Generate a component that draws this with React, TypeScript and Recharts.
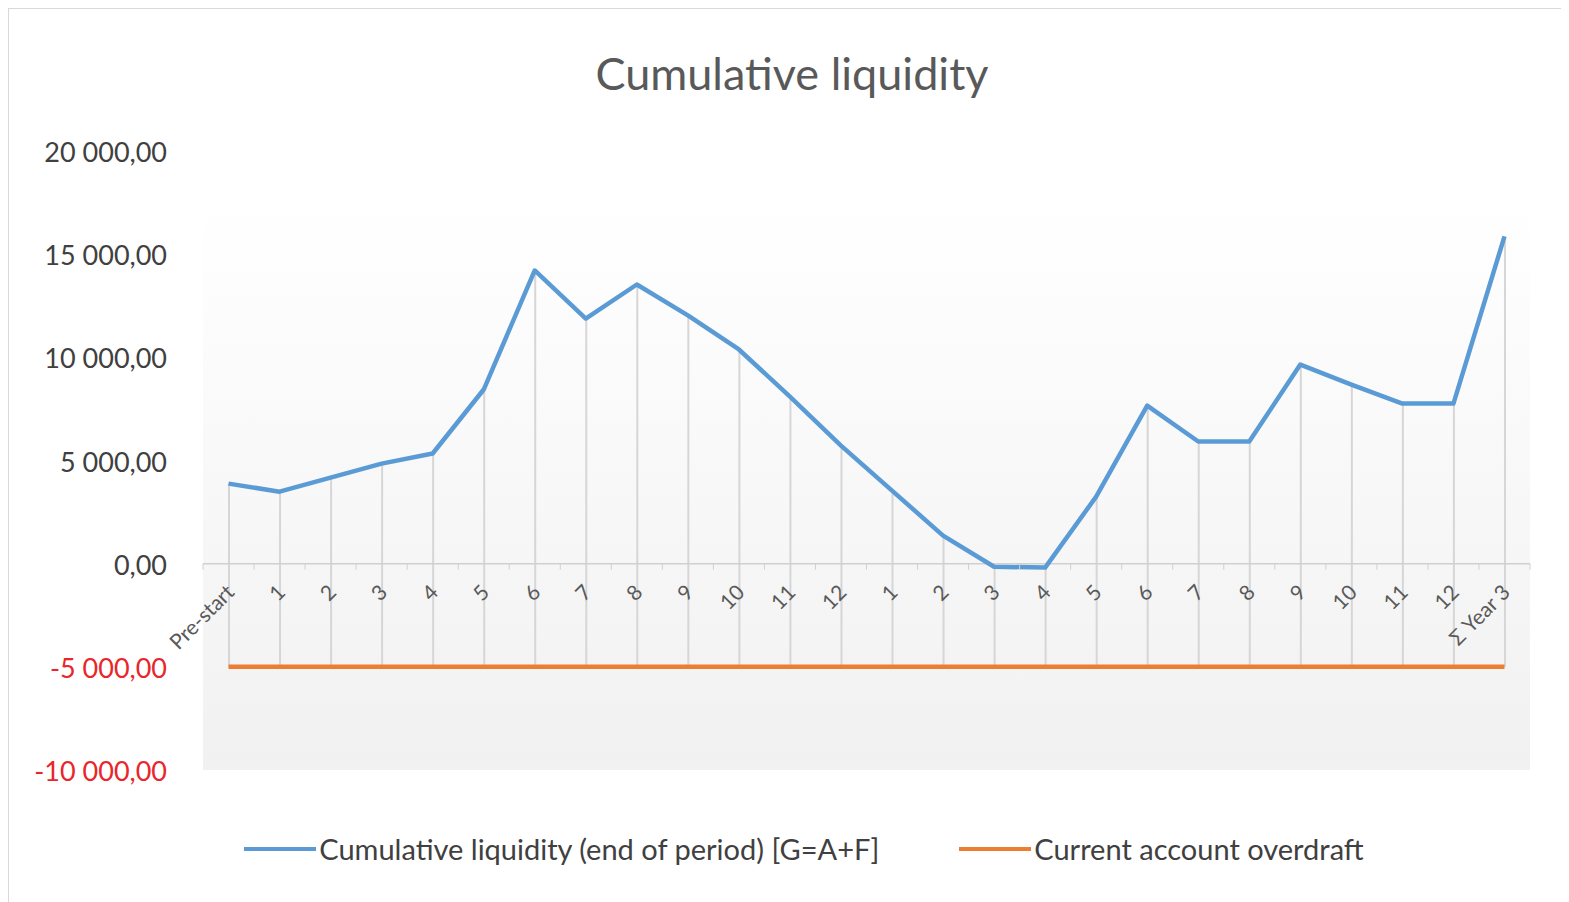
import { ComposedChart, Line, Bar, XAxis, YAxis, CartesianGrid, ReferenceLine } from 'recharts'

const categories = [
  'Pre-start', '1', '2', '3', '4', '5', '6', '7', '8', '9', '10', '11', '12',
  '1', '2', '3', '4', '5', '6', '7', '8', '9', '10', '11', '12', 'Σ Year 3',
]
const liquidity = [
  3880, 3490, 4170, 4850, 5340, 8440, 14210, 11880, 13530, 12030, 10380, 8100, 5720,
  3540, 1360, -150, -190, 3250, 7660, 5920, 5920, 9650, 8680, 7760, 7760, 15860,
]
const overdraft = categories.map(() => -5000)
const yTicks = [-10000, -5000, 0, 5000, 10000, 15000, 20000]

const data = categories.map((c, i) => ({
  idx: i,
  liquidity: liquidity[i],
  overdraft: overdraft[i],
  drop: [overdraft[i], liquidity[i]],
}))

const FONT = 'Lato, "Open Sans", sans-serif'
const W = 1566
const H = 900
const M = { top: 142, right: 45, bottom: 109, left: 0 }
const X_AXIS_H = 30
const PLOT_W = W - 194 - M.right
const PLOT_H = H - M.top - M.bottom - X_AXIS_H
const Y_MIN = -10000
const Y_MAX = 20000
const ZERO_SHIFT = (PLOT_H * (0 - Y_MIN)) / (Y_MAX - Y_MIN)
const BAND = PLOT_W / categories.length

const fmt = (v: number) => {
  const s = Math.abs(v).toFixed(0).replace(/\B(?=(\d{3})+(?!\d))/g, ' ')
  return (v < 0 ? '-' : '') + s + ',00'
}

const YTick = ({ x, y, payload }: any) => (
  <text x={x} y={y} dy={11} textAnchor="end" fontSize={27} fontFamily={FONT}
    fill={payload.value < 0 ? '#e8262b' : '#404040'}>
    {fmt(payload.value)}
  </text>
)

const XTick = ({ x, y, index }: any) => {
  const zy = y - ZERO_SHIFT
  return (
    <g>
      <line x1={x - BAND / 2} x2={x - BAND / 2} y1={zy} y2={zy + 6} stroke="#d0d0d0" />
      {index === categories.length - 1 && (
        <line x1={x + BAND / 2} x2={x + BAND / 2} y1={zy} y2={zy + 6} stroke="#d0d0d0" />
      )}
      <text transform={`translate(${x + 7},${zy + 30}) rotate(-45)`} textAnchor="end"
        fontSize={21} fontFamily={FONT} fill="#595959">
        {categories[index]}
      </text>
    </g>
  )
}

const legendItems = [
  { label: 'Cumulative liquidity (end of period) [G=A+F]', color: '#5b9bd5' },
  { label: 'Current account overdraft', color: '#ed7d31' },
]

export default function App() {
  return (
    <div style={{
      position: 'relative', width: 1590, height: 920,
      border: '1px solid #d9d9d9', background: '#fff', fontFamily: FONT,
    }}>
      <div style={{
        position: 'absolute', top: 42, left: 0, width: W, textAlign: 'center',
        fontSize: 45, color: '#595959', lineHeight: 1,
      }}>
        Cumulative liquidity
      </div>
      <ComposedChart width={W} height={H} data={data} margin={M}>
        <defs>
          <linearGradient id="plotBg" x1="0" y1="0" x2="0" y2="1">
            <stop offset="0.08" stopColor="#ffffff" />
            <stop offset="1" stopColor="#f1f1f1" />
          </linearGradient>
        </defs>
        <CartesianGrid horizontal={false} vertical={false} fill="url(#plotBg)" />
        <XAxis dataKey="idx" height={X_AXIS_H} axisLine={false} tickLine={false}
          tickSize={0} tickMargin={0} interval={0} tick={<XTick />} />
        <YAxis width={194} domain={[Y_MIN, Y_MAX]} ticks={yTicks} allowDataOverflow
          axisLine={false} tickLine={false} tickSize={0} tickMargin={36} tick={<YTick />} />
        <Bar dataKey="drop" barSize={2} fill="#d6d6d6" isAnimationActive={false} />
        <ReferenceLine y={0} stroke="#d0d0d0" strokeWidth={1.5} />
        <Line dataKey="overdraft" stroke="#ed7d31" strokeWidth={4.5} dot={false}
          isAnimationActive={false} />
        <Line dataKey="liquidity" stroke="#5b9bd5" strokeWidth={4.5} dot={false}
          strokeLinejoin="round" isAnimationActive={false} />
      </ComposedChart>
      <div style={{
        position: 'absolute', top: 822, left: 12, width: W,
        display: 'flex', justifyContent: 'center', alignItems: 'center', gap: 80,
        fontSize: 29, color: '#404040',
      }}>
        {legendItems.map((it) => (
          <div key={it.label} style={{ display: 'flex', alignItems: 'center' }}>
            <span style={{ display: 'inline-block', width: 72, height: 4, background: it.color, marginRight: 3 }} />
            <span>{it.label}</span>
          </div>
        ))}
      </div>
    </div>
  )
}
